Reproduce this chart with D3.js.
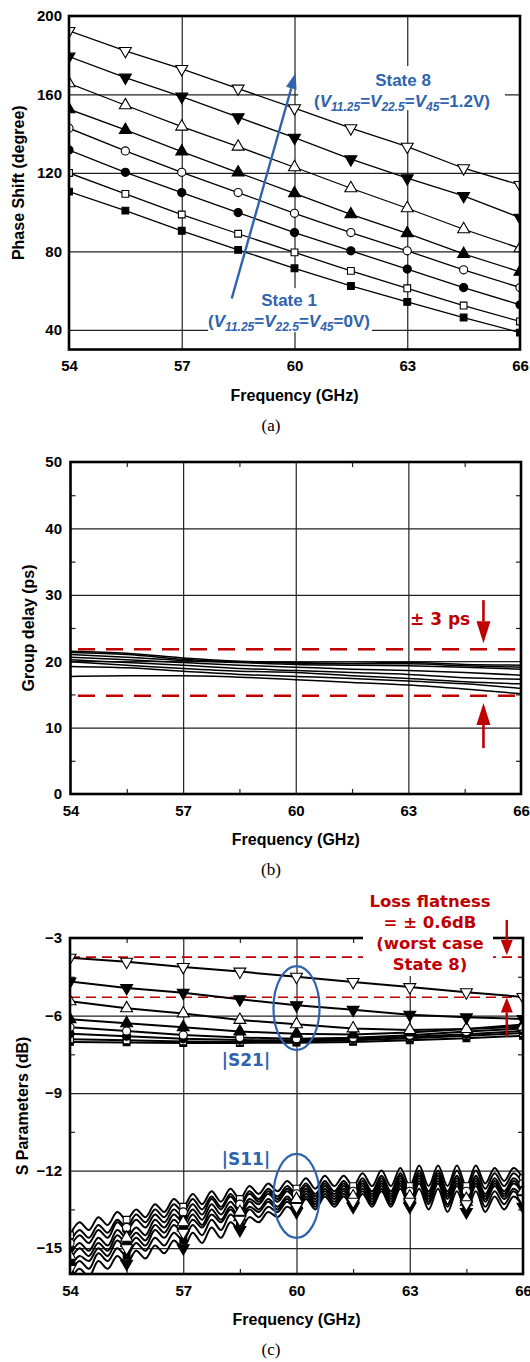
<!DOCTYPE html>
<html>
<head>
<meta charset="utf-8">
<script src="https://cdn.jsdelivr.net/npm/d3@7"></script>
<style>
  body { margin: 0; background: #fff; }
  svg { display: block; }
  text { font-family: "Liberation Sans", Arial, sans-serif; font-weight: bold; }
</style>
</head>
<body>
<svg id="chart" width="530" height="1362"></svg>
<script>
// ---- data ----
var freqs = [54, 55.5, 57, 58.5, 60, 61.5, 63, 64.5, 66];
var freqTicks = [54, 57, 60, 63, 66];
var freqGrid = [57, 60, 63];
var freqMinor = [55.5, 58.5, 61.5, 64.5];

// marker of each state: 1..8
var stateMarkers = ["sqF", "sqO", "ciF", "ciO", "trUF", "trUO", "trDF", "trDO"];

// (a) phase shift (degree)
var phaseS1 = [110.5, 100.8, 90.5, 80.8, 71.4, 62.4, 54.3, 46.3, 38.6];
var phaseS2 = [120.0, 109.3, 98.8, 89.0, 79.5, 70.1, 61.2, 52.4, 44.3];
var phaseS3 = [131.7, 120.3, 110.0, 99.8, 89.6, 80.3, 71.0, 61.6, 52.8];
var phaseS4 = [142.8, 131.2, 120.3, 110.0, 99.4, 89.6, 80.3, 70.6, 61.6];
var phaseS5 = [152.5, 141.9, 130.9, 120.2, 109.6, 98.9, 89.2, 78.7, 69.6];
var phaseS6 = [165.7, 154.5, 143.6, 133.4, 122.9, 112.2, 102.0, 91.3, 81.6];
var phaseS7 = [179.3, 168.6, 158.9, 148.4, 138.0, 127.0, 117.3, 108.3, 97.2];
var phaseS8 = [192.4, 182.2, 173.0, 163.0, 153.0, 142.8, 133.4, 122.4, 113.9];
var phaseTicks = [40, 80, 120, 160, 200];
var phaseGrid = [40, 80, 120, 160];

// (b) group delay (ps)
var gd1 = [21.5, 21.2, 20.5, 20.0, 19.8, 19.7, 19.8, 19.5, 19.4];
var gd2 = [21.3, 21.0, 20.3, 19.9, 19.7, 19.6, 19.6, 19.3, 19.1];
var gd3 = [21.0, 20.6, 20.1, 19.8, 19.5, 19.4, 19.3, 19.1, 18.8];
var gd4 = [20.6, 20.2, 19.8, 19.4, 19.1, 18.8, 18.6, 18.3, 17.9];
var gd5 = [20.2, 19.8, 19.4, 18.9, 18.6, 18.3, 18.0, 17.5, 17.3];
var gd6 = [19.9, 19.4, 18.9, 18.5, 18.3, 17.8, 17.4, 16.9, 16.6];
var gd7 = [19.2, 19.0, 18.5, 18.0, 17.7, 17.4, 17.0, 16.6, 15.9];
var gd8 = [17.7, 17.8, 17.8, 17.6, 17.2, 16.8, 16.4, 15.8, 15.1];
var gdLimits = [21.8, 14.8];
var gdTicks = [0, 10, 20, 30, 40, 50];
var gdGrid = [10, 20, 30, 40];
var gdMinor = [5, 15, 25, 35, 45];

// (c) |S21| (dB)
var s21_1 = [-7.02, -7.04, -7.06, -7.06, -7.05, -7.02, -6.96, -6.88, -6.78];
var s21_2 = [-6.92, -6.96, -7.00, -7.02, -7.00, -6.96, -6.88, -6.78, -6.68];
var s21_3 = [-6.70, -6.80, -6.90, -6.95, -6.96, -6.90, -6.82, -6.72, -6.60];
var s21_4 = [-6.45, -6.60, -6.75, -6.85, -6.90, -6.86, -6.76, -6.62, -6.50];
var s21_5 = [-6.14, -6.30, -6.45, -6.62, -6.70, -6.73, -6.66, -6.52, -6.35];
var s21_6 = [-5.45, -5.72, -5.92, -6.17, -6.34, -6.50, -6.56, -6.52, -6.43];
var s21_7 = [-4.68, -4.93, -5.12, -5.37, -5.60, -5.78, -5.97, -6.07, -6.13];
var s21_8 = [-3.76, -3.92, -4.12, -4.30, -4.50, -4.70, -4.90, -5.10, -5.28];
var flatLimits = [-3.74, -5.29];

// (c) |S11| (dB), sampled every 0.25 GHz
var s11Freqs = d3.range(54, 66.0001, 0.25);
var s11_2 = [-14.5,-14.0,-14.3,-13.8,-14.1,-13.6,-13.9,-13.5,-13.8,-13.3,-13.6,-13.1,-13.4,
  -12.9,-13.3,-12.8,-13.2,-12.7,-13.1,-12.6,-12.9,-12.5,-12.8,-12.4,-12.7,
  -12.3,-12.7,-12.2,-12.6,-12.2,-12.6,-12.1,-12.6,-12.0,-12.6,-11.9,-12.6,
  -11.8,-12.6,-11.8,-12.6,-11.8,-12.6,-11.8,-12.5,-11.9,-12.4,-11.9,-12.3];
var s11_4 = [-14.8,-14.3,-14.6,-14.1,-14.4,-13.9,-14.2,-13.7,-14.0,-13.5,-13.8,-13.3,-13.6,
  -13.1,-13.5,-13.0,-13.4,-12.9,-13.3,-12.8,-13.1,-12.7,-13.0,-12.6,-12.9,
  -12.5,-12.9,-12.4,-12.8,-12.4,-12.8,-12.3,-12.8,-12.2,-12.8,-12.1,-12.8,
  -12.0,-12.8,-12.0,-12.8,-12.0,-12.8,-12.0,-12.7,-12.1,-12.6,-12.1,-12.5];
var s11_3 = [-15.0,-14.5,-14.8,-14.3,-14.6,-14.0,-14.3,-13.9,-14.2,-13.7,-14.0,-13.5,-13.8,
  -13.3,-13.7,-13.1,-13.5,-13.0,-13.4,-12.9,-13.2,-12.8,-13.1,-12.7,-13.0,
  -12.6,-13.0,-12.5,-12.9,-12.5,-12.9,-12.4,-12.9,-12.3,-12.9,-12.2,-12.9,
  -12.1,-12.9,-12.1,-12.9,-12.2,-13.0,-12.2,-12.9,-12.3,-12.8,-12.3,-12.7];
var s11_6 = [-15.3,-14.8,-15.1,-14.6,-14.9,-14.3,-14.6,-14.2,-14.5,-13.9,-14.2,-13.7,-14.0,
  -13.5,-13.9,-13.3,-13.7,-13.2,-13.6,-13.1,-13.3,-12.9,-13.2,-12.8,-13.1,
  -12.7,-13.1,-12.6,-13.0,-12.6,-13.0,-12.5,-13.0,-12.4,-13.0,-12.3,-13.0,
  -12.2,-13.0,-12.2,-13.0,-12.3,-13.1,-12.3,-13.0,-12.4,-12.9,-12.4,-12.8];
var s11_5 = [-15.5,-15.0,-15.3,-14.8,-15.1,-14.5,-14.8,-14.4,-14.7,-14.1,-14.4,-13.9,-14.2,
  -13.7,-14.1,-13.5,-13.9,-13.4,-13.8,-13.2,-13.5,-13.1,-13.4,-13.0,-13.3,
  -12.8,-13.2,-12.7,-13.1,-12.7,-13.1,-12.6,-13.1,-12.5,-13.1,-12.4,-13.1,
  -12.3,-13.1,-12.3,-13.1,-12.4,-13.2,-12.4,-13.1,-12.5,-13.0,-12.5,-12.9];
var s11_8 = [-15.8,-15.3,-15.5,-15.0,-15.3,-14.7,-15.0,-14.6,-14.9,-14.3,-14.6,-14.1,-14.4,
  -13.9,-14.2,-13.7,-14.0,-13.5,-13.9,-13.4,-13.6,-13.2,-13.5,-13.1,-13.4,
  -12.9,-13.3,-12.8,-13.2,-12.8,-13.2,-12.7,-13.2,-12.6,-13.2,-12.5,-13.2,
  -12.4,-13.2,-12.4,-13.3,-12.5,-13.3,-12.5,-13.2,-12.6,-13.1,-12.7,-13.1];
var s11_1 = [-16.0,-15.5,-15.8,-15.2,-15.5,-15.0,-15.3,-14.8,-15.1,-14.6,-14.9,-14.4,-14.7,
  -14.1,-14.5,-13.9,-14.3,-13.7,-14.0,-13.5,-13.8,-13.4,-13.6,-13.2,-13.5,
  -13.0,-13.4,-12.9,-13.3,-12.9,-13.3,-12.8,-13.3,-12.7,-13.3,-12.6,-13.3,
  -12.5,-13.3,-12.5,-13.4,-12.6,-13.4,-12.6,-13.4,-12.8,-13.3,-12.8,-13.3];
var s11_7 = [-16.3,-15.8,-16.1,-15.5,-15.8,-15.3,-15.6,-15.1,-15.4,-14.9,-15.2,-14.7,-15.0,
  -14.4,-14.8,-14.2,-14.6,-14.0,-14.3,-13.8,-14.0,-13.6,-13.8,-13.4,-13.6,
  -13.1,-13.5,-13.0,-13.4,-13.0,-13.4,-12.9,-13.4,-12.8,-13.4,-12.7,-13.4,
  -12.7,-13.5,-12.7,-13.6,-12.8,-13.6,-12.8,-13.6,-13.0,-13.5,-13.0,-13.4];
var sTicks = [-3, -6, -9, -12, -15];
var sGrid = [-6, -9, -12, -15];
var sMinor = [-4.5, -7.5, -10.5, -13.5];

var phaseSeries = [phaseS1, phaseS2, phaseS3, phaseS4, phaseS5, phaseS6, phaseS7, phaseS8];
var gdSeries = [gd1, gd2, gd3, gd4, gd5, gd6, gd7, gd8];
var s21Series = [s21_1, s21_2, s21_3, s21_4, s21_5, s21_6, s21_7, s21_8];
var s11Series = [s11_1, s11_2, s11_3, s11_4, s11_5, s11_6, s11_7, s11_8];

// ---- drawing ----
var svg = d3.select("#chart");
var defs = svg.append("defs");
var blue = "#2f63ad", red = "#c00000";

function setupPanel(p) {
  var x = d3.scaleLinear().domain([54, 66]).range([p.left, p.right]);
  var y = d3.scaleLinear().domain(p.yDomain).range([p.bottom, p.top]);
  var w = p.right - p.left, h = p.bottom - p.top;
  defs.append("clipPath").attr("id", "clip-" + p.id).append("rect")
    .attr("x", p.left).attr("y", p.top).attr("width", w).attr("height", h);

  var grid = svg.append("g");
  grid.append("g").attr("transform", "translate(0," + p.bottom + ")")
    .call(d3.axisBottom(x).tickValues(freqGrid).tickSize(-h).tickFormat(""));
  grid.append("g").attr("transform", "translate(" + p.left + ",0)")
    .call(d3.axisLeft(y).tickValues(p.yGrid).tickSize(-w).tickFormat(""));
  if (p.yMinor) {
    grid.append("g").attr("transform", "translate(0," + p.bottom + ")")
      .call(d3.axisBottom(x).tickValues(freqMinor).tickSize(-5).tickFormat(""));
    grid.append("g").attr("transform", "translate(0," + p.top + ")")
      .call(d3.axisTop(x).tickValues(freqMinor).tickSize(-5).tickFormat(""));
    grid.append("g").attr("transform", "translate(" + p.left + ",0)")
      .call(d3.axisLeft(y).tickValues(p.yMinor).tickSize(-5).tickFormat(""));
    grid.append("g").attr("transform", "translate(" + p.right + ",0)")
      .call(d3.axisRight(y).tickValues(p.yMinor).tickSize(-5).tickFormat(""));
  }
  grid.selectAll(".domain").remove();
  grid.selectAll("line").attr("stroke", "#222").attr("stroke-width", 1.2);

  var boxes = svg.append("g");
  var plot = svg.append("g").attr("clip-path", "url(#clip-" + p.id + ")");
  return { x: x, y: y, p: p, boxes: boxes, plot: plot };
}

function finishPanel(P) {
  var p = P.p, x = P.x, y = P.y;
  svg.append("rect").attr("x", p.left).attr("y", p.top)
    .attr("width", p.right - p.left).attr("height", p.bottom - p.top)
    .attr("fill", "none").attr("stroke", "#000").attr("stroke-width", 2.6);

  var xa = svg.append("g").attr("transform", "translate(0," + p.bottom + ")")
    .call(d3.axisBottom(x).tickValues(freqTicks).tickSize(0).tickPadding(11));
  var ya = svg.append("g").attr("transform", "translate(" + p.left + ",0)")
    .call(d3.axisLeft(y).tickValues(p.yTicks).tickSize(0).tickPadding(p.left - 62));
  [xa, ya].forEach(function(a) {
    a.select(".domain").remove();
    a.attr("font-family", null).attr("font-size", null);
    a.selectAll("text").style("font-size", "15px").attr("fill", "#000");
  });

  svg.append("text").attr("x", (p.left + p.right) / 2).attr("y", p.bottom + 51)
    .attr("text-anchor", "middle").style("font-size", "16px").text("Frequency (GHz)");
  svg.append("text")
    .attr("transform", "translate(" + p.titleX + "," + (p.top + p.bottom) / 2 + ") rotate(-90)")
    .attr("text-anchor", "middle").attr("dominant-baseline", "central")
    .style("font-size", "16px").text(p.yTitle);
  svg.append("text").attr("x", 271).attr("y", p.bottom + 81)
    .attr("text-anchor", "middle")
    .style("font-family", "'Liberation Serif','Times New Roman',serif")
    .style("font-weight", "normal").style("font-size", "17px").text(p.caption);
}

function drawMarker(layer, kind, cx, cy) {
  var type = kind.indexOf("sq") === 0 ? d3.symbolSquare
           : kind.indexOf("ci") === 0 ? d3.symbolCircle : d3.symbolTriangle;
  var size = kind.indexOf("sq") === 0 ? 46 : kind.indexOf("ci") === 0 ? 52 : 62;
  var rot = kind.indexOf("trD") === 0 ? 180 : 0;
  layer.append("path")
    .attr("d", d3.symbol().type(type).size(size)())
    .attr("transform", "translate(" + cx + "," + cy + ") rotate(" + rot + ")")
    .attr("fill", kind.slice(-1) === "F" ? "#000" : "#fff")
    .attr("stroke", "#000").attr("stroke-width", 1.1);
}

function arrow(layer, x1, y1, x2, y2, color, width, headLen, headW) {
  var ang = Math.atan2(y2 - y1, x2 - x1);
  var bx = x2 - headLen * Math.cos(ang), by = y2 - headLen * Math.sin(ang);
  layer.append("line").attr("x1", x1).attr("y1", y1).attr("x2", bx).attr("y2", by)
    .attr("stroke", color).attr("stroke-width", width);
  var px = -Math.sin(ang) * headW / 2, py = Math.cos(ang) * headW / 2;
  layer.append("path")
    .attr("d", "M" + x2 + "," + y2 + "L" + (bx + px) + "," + (by + py) + "L" + (bx - px) + "," + (by - py) + "Z")
    .attr("fill", color);
}

function voltText(x, y, tail) {
  var t = svg.append("text").attr("x", x).attr("y", y).attr("text-anchor", "middle")
    .attr("fill", blue).style("font-size", "17px");
  t.append("tspan").text("(");
  [["11.25", "="], ["22.5", "="], ["45", tail]].forEach(function(s) {
    t.append("tspan").style("font-style", "italic").text("V");
    t.append("tspan").style("font-style", "italic").style("font-size", "12px").attr("dy", 4).text(s[0]);
    t.append("tspan").attr("dy", -4).text(s[1]);
  });
}

// ===== (a) phase shift =====
var A = setupPanel({ id: "a", left: 69, right: 520, top: 16, bottom: 349.5, yDomain: [30, 200],
  yTicks: phaseTicks, yGrid: phaseGrid, titleX: 18, yTitle: "Phase Shift (degree)", caption: "(a)" });

// white boxes behind the state labels
A.boxes.append("rect").attr("x", A.x(60.1)).attr("y", A.y(174.5))
  .attr("width", A.x(65.6) - A.x(60.1)).attr("height", A.y(152) - A.y(174.5)).attr("fill", "#fff");
A.boxes.append("rect").attr("x", A.x(57.7)).attr("y", A.y(61.3))
  .attr("width", A.x(62.06) - A.x(57.7)).attr("height", A.y(38.9) - A.y(61.3)).attr("fill", "#fff");

var lineA = d3.line().x(function(d, i) { return A.x(freqs[i]); }).y(function(d) { return A.y(d); });
phaseSeries.forEach(function(s, k) {
  A.plot.append("path").attr("d", lineA(s)).attr("fill", "none")
    .attr("stroke", "#000").attr("stroke-width", 1.3);
});
phaseSeries.forEach(function(s, k) {
  s.forEach(function(v, i) { drawMarker(A.plot, stateMarkers[k], A.x(freqs[i]), A.y(v)); });
});
finishPanel(A);

arrow(svg, A.x(58.33), A.y(56), A.x(60.03), A.y(171), blue, 2.4, 16, 11);
svg.append("text").attr("x", 403).attr("y", 86).attr("text-anchor", "middle")
  .attr("fill", blue).style("font-size", "17px").text("State 8");
voltText(402, 107, "=1.2V)");
svg.append("text").attr("x", 289).attr("y", 306).attr("text-anchor", "middle")
  .attr("fill", blue).style("font-size", "17px").text("State 1");
voltText(289, 327, "=0V)");

// ===== (b) group delay =====
var B = setupPanel({ id: "b", left: 70.5, right: 521, top: 462, bottom: 794, yDomain: [0, 50],
  yTicks: gdTicks, yGrid: gdGrid, yMinor: gdMinor, titleX: 28, yTitle: "Group delay (ps)", caption: "(b)" });

var lineB = d3.line().curve(d3.curveMonotoneX)
  .x(function(d, i) { return B.x(freqs[i]); }).y(function(d) { return B.y(d); });
gdLimits.forEach(function(v) {
  B.plot.append("line").attr("x1", B.x(54.2)).attr("x2", B.x(65.9))
    .attr("y1", B.y(v)).attr("y2", B.y(v))
    .attr("stroke", red).attr("stroke-width", 2.6).attr("stroke-dasharray", "17,11");
});
gdSeries.forEach(function(s) {
  B.plot.append("path").attr("d", lineB(s)).attr("fill", "none")
    .attr("stroke", "#000").attr("stroke-width", 1.5);
});
finishPanel(B);

svg.append("text").attr("x", 410).attr("y", 625)
  .style("font-family", "'DejaVu Sans',Verdana,sans-serif").style("font-size", "17px")
  .attr("fill", red).text("\u00b1 3 ps");
arrow(svg, B.x(65), B.y(29.2), B.x(65), B.y(22.7), red, 2.6, 22, 14);
arrow(svg, B.x(65), B.y(6.9), B.x(65), B.y(13.7), red, 2.6, 22, 14);

// ===== (c) S parameters =====
var C = setupPanel({ id: "c", left: 70, right: 523, top: 938, bottom: 1274, yDomain: [-16, -3],
  yTicks: sTicks, yGrid: sGrid, yMinor: sMinor, titleX: 22, yTitle: "S Parameters (dB)", caption: "(c)" });

flatLimits.forEach(function(v) {
  C.plot.append("line").attr("x1", C.x(54)).attr("x2", C.x(66))
    .attr("y1", C.y(v)).attr("y2", C.y(v))
    .attr("stroke", red).attr("stroke-width", 1.6).attr("stroke-dasharray", "10,6");
});
var lineS21 = d3.line().x(function(d, i) { return C.x(freqs[i]); }).y(function(d) { return C.y(d); });
var lineS11 = d3.line().curve(d3.curveCatmullRom)
  .x(function(d, i) { return C.x(s11Freqs[i]); }).y(function(d) { return C.y(d); });
s21Series.forEach(function(s) {
  C.plot.append("path").attr("d", lineS21(s)).attr("fill", "none")
    .attr("stroke", "#000").attr("stroke-width", 2);
});
s11Series.forEach(function(s) {
  C.plot.append("path").attr("d", lineS11(s)).attr("fill", "none")
    .attr("stroke", "#000").attr("stroke-width", 2);
});
s21Series.forEach(function(s, k) {
  s.forEach(function(v, i) { drawMarker(C.plot, stateMarkers[k], C.x(freqs[i]), C.y(v)); });
});
s11Series.forEach(function(s, k) {
  s.forEach(function(v, i) {
    if (i % 6 === 0) drawMarker(C.plot, stateMarkers[k], C.x(s11Freqs[i]), C.y(v));
  });
});
finishPanel(C);

// white box of the flatness note (covers frame and dashed line)
svg.append("rect").attr("x", 363).attr("y", 884).attr("width", 130).attr("height", 92).attr("fill", "#fff");
["Loss flatness", "= \u00b1 0.6dB", "(worst case", "State 8)"].forEach(function(s, i) {
  svg.append("text").attr("x", 430).attr("y", 907 + i * 21).attr("text-anchor", "middle")
    .style("font-family", "'DejaVu Sans',Verdana,sans-serif").style("font-size", "16.5px")
    .attr("fill", red).text(s);
});
arrow(svg, C.x(65.57), C.y(-2.3), C.x(65.57), C.y(-3.66), red, 2.4, 15, 12);
arrow(svg, C.x(65.57), C.y(-6.82), C.x(65.57), C.y(-5.3), red, 2.4, 15, 12);

[[-5.71, "|S21|", -7.95], [-12.98, "|S11|", -11.8]].forEach(function(e) {
  svg.append("ellipse").attr("cx", C.x(60)).attr("cy", C.y(e[0])).attr("rx", 23).attr("ry", 42)
    .attr("fill", "none").attr("stroke", blue).attr("stroke-width", 2.2);
  svg.append("text").attr("x", 246).attr("y", C.y(e[2])).attr("text-anchor", "middle")
    .style("font-family", "'DejaVu Sans',Verdana,sans-serif").style("font-size", "17px")
    .attr("fill", blue).text(e[1]);
});
</script>
</body>
</html>
